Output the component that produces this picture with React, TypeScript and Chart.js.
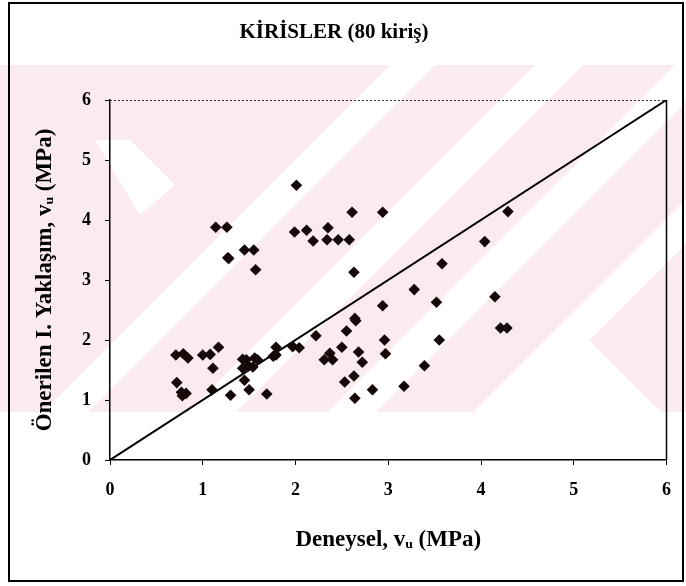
import { useEffect, useRef } from "react";
import { Chart, registerables } from "chart.js";

Chart.register(...registerables);

const titleText = "KİRİSLER (80 kiriş)";
const xAxisTitle = "Deneysel, vᵤ (MPa)";
const yAxisTitle = "Önerilen I. Yaklaşım, vᵤ (MPa)";

const axisMin = 0;
const axisMax = 6;
const tickStep = 1;

// Deneysel (experimental) v_u values, MPa
const deneysel = [
  0.71, 0.79, 0.84, 1.0, 1.08, 1.17, 1.11, 0.72, 0.77, 0.82,
  0.78, 1.1, 1.3, 1.43, 1.47, 1.49, 1.56, 1.59, 1.54, 1.43,
  1.45, 1.5, 1.69, 1.79, 1.79, 1.76, 1.97, 2.04, 2.22, 2.55,
  2.96, 2.97, 2.37, 2.31, 2.4, 2.5, 2.68, 2.72, 2.53, 2.63,
  2.83, 2.64, 3.17, 3.39, 3.55, 3.52, 2.94, 2.64, 2.65, 3.28,
  3.58, 4.04, 4.29, 4.15, 4.21, 4.28, 2.63, 2.01, 1.99, 2.12,
  2.19, 2.35, 2.34, 2.46, 2.58, 2.61, 2.94, 1.14, 1.26, 1.27,
  1.28, 1.45, 1.55, 1.57,
];

// Önerilen I. Yaklaşım (proposed approach) v_u values, MPa
const onerilen = [
  1.75, 1.77, 1.7, 1.75, 1.76, 1.88, 1.53, 1.29, 1.13, 1.11,
  1.07, 1.17, 1.08, 1.68, 1.67, 1.57, 1.7, 1.67, 1.55, 1.53,
  1.33, 1.17, 1.1, 1.88, 1.75, 1.73, 1.89, 1.87, 2.07, 2.15,
  2.0, 1.77, 1.78, 1.67, 1.67, 1.88, 1.8, 1.63, 1.3, 1.4,
  1.17, 1.03, 1.23, 1.57, 2.0, 2.63, 2.57, 2.36, 2.32, 2.84,
  3.27, 3.64, 4.14, 2.72, 2.2, 2.2, 3.13, 4.58, 3.8, 3.83,
  3.65, 3.87, 3.67, 3.67, 3.67, 4.13, 4.13, 3.88, 3.88, 3.37,
  3.36, 3.5, 3.5, 3.17,
];

// y = x reference line end points
const equalityLine = [0, 6];

const decorPlugin = {
  id: "decor",
  beforeDraw(chart: any) {
    const ctx = chart.ctx as CanvasRenderingContext2D;
    const w = chart.width;
    const h = chart.height;
    ctx.save();
    ctx.fillStyle = "#ffffff";
    ctx.fillRect(0, 0, w, h);
    // faint watermark
    ctx.beginPath();
    ctx.rect(0, 65, w, 347);
    ctx.clip();
    ctx.fillStyle = "#fcebee";
    ctx.fillRect(0, 65, w, 347);
    ctx.fillStyle = "#ffffff";
    const bands = [
      [455, 500],
      [600, 648],
      [740, 788],
      [885, 930],
    ];
    for (const [c1, c2] of bands) {
      ctx.beginPath();
      ctx.moveTo(c1, 0);
      ctx.lineTo(c2, 0);
      ctx.lineTo(c2 - 700, 700);
      ctx.lineTo(c1 - 700, 700);
      ctx.closePath();
      ctx.fill();
    }
    // lower-right chevron
    ctx.beginPath();
    ctx.moveTo(567, 318);
    ctx.lineTo(967, 718);
    ctx.lineTo(167, 718);
    ctx.closePath();
    ctx.fill();
    // upper-left diagonal
    ctx.beginPath();
    ctx.moveTo(95, 140);
    ctx.lineTo(130, 140);
    ctx.lineTo(175, 185);
    ctx.lineTo(140, 215);
    ctx.closePath();
    ctx.fill();
    ctx.restore();
  },
  afterDraw(chart: any) {
    const ctx = chart.ctx as CanvasRenderingContext2D;
    const a = chart.chartArea;
    ctx.save();
    // top (dotted) and right plot borders
    ctx.strokeStyle = "#333";
    ctx.lineWidth = 1;
    ctx.setLineDash([2, 2]);
    ctx.beginPath();
    ctx.moveTo(a.left, a.top + 0.5);
    ctx.lineTo(a.right, a.top + 0.5);
    ctx.stroke();
    ctx.setLineDash([]);
    ctx.strokeStyle = "#000";
    ctx.lineWidth = 1.5;
    ctx.beginPath();
    ctx.moveTo(a.right, a.top);
    ctx.lineTo(a.right, a.bottom);
    ctx.stroke();
    // outer frame
    ctx.lineWidth = 2;
    ctx.strokeRect(9, 3, 674, 578);
    ctx.restore();
  },
};

export default function App() {
  const canvasRef = useRef<HTMLCanvasElement | null>(null);

  useEffect(() => {
    if (!canvasRef.current) return;
    const points = deneysel.map((x, i) => ({ x, y: onerilen[i] }));
    const linePts = equalityLine.map((v) => ({ x: v, y: v }));
    const family = "'Liberation Serif', 'Times New Roman', serif";
    const tickFont = { family, size: 18, weight: "bold" as const };
    const titleFont = { family, size: 23, weight: "bold" as const };
    const chart = new Chart(canvasRef.current, {
      type: "scatter",
      data: {
        datasets: [
          {
            label: "y = x",
            data: linePts,
            showLine: true,
            borderColor: "#000",
            borderWidth: 2,
            pointRadius: 0,
            order: 2,
          },
          {
            label: "Kirişler",
            data: points,
            pointStyle: "rectRot",
            pointRadius: 5.8,
            backgroundColor: "#140808",
            borderColor: "#140808",
            borderWidth: 0,
            order: 1,
          },
        ],
      },
      options: {
        responsive: false,
        animation: false,
        layout: { padding: { left: 0, right: 18, top: 0, bottom: 0 } },
        plugins: {
          legend: { display: false },
          tooltip: { enabled: false },
          title: {
            display: true,
            text: titleText,
            color: "#000",
            font: { family, size: 21, weight: "bold" },
            padding: { top: 20.4, bottom: 54.4 },
          },
        },
        scales: {
          x: {
            type: "linear",
            min: axisMin,
            max: axisMax,
            afterFit: (s: any) => {
              s.height = 126;
            },
            ticks: { stepSize: tickStep, color: "#000", font: tickFont, padding: 15, maxRotation: 0 },
            grid: { drawOnChartArea: false, drawTicks: true, tickLength: 5, color: "#000" },
            border: { display: true, color: "#000", width: 1.5 },
            title: {
              display: true,
              text: xAxisTitle,
              color: "#000",
              font: titleFont,
              padding: { top: 0, bottom: 32 },
            },
          },
          y: {
            type: "linear",
            min: axisMin,
            max: axisMax,
            afterFit: (s: any) => {
              s.width = 110;
            },
            ticks: { stepSize: tickStep, color: "#000", font: tickFont, padding: 14 },
            grid: { drawOnChartArea: false, drawTicks: true, tickLength: 5, color: "#000" },
            border: { display: true, color: "#000", width: 1.5 },
            title: {
              display: true,
              text: yAxisTitle,
              color: "#000",
              font: titleFont,
              padding: { top: 31, bottom: 0 },
            },
          },
        },
      },
      plugins: [decorPlugin],
    });
    return () => chart.destroy();
  }, []);

  return (
    <div style={{ position: "fixed", left: 0, top: 0, width: 686, height: 586 }}>
      <canvas ref={canvasRef} width={686} height={586} style={{ width: 686, height: 586 }} />
    </div>
  );
}
